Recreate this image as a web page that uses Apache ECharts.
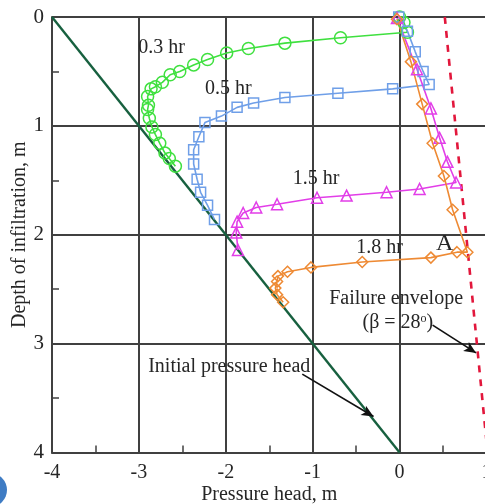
<!DOCTYPE html>
<html><head><meta charset="utf-8">
<style>html,body{margin:0;padding:0;background:#fff;overflow:hidden}#c{width:485px;height:504px;filter:blur(0.5px)}</style>
<script src="https://cdn.jsdelivr.net/npm/echarts@6/dist/echarts.min.js"></script>
</head><body><div id="c"></div>
<script>
const xTicks = [-4,-3,-2,-1,0,1];
const yTicks = [0,1,2,3,4];
const hr03 = [[0,0],[0.05,0.05],[0.09,0.14],[-0.68,0.19],[-1.32,0.24],[-1.74,0.29],[-1.99,0.33],[-2.21,0.39],[-2.37,0.44],[-2.53,0.50],[-2.64,0.53],[-2.73,0.60],[-2.81,0.64],[-2.86,0.66],[-2.90,0.73],[-2.89,0.81],[-2.90,0.85],[-2.88,0.93],[-2.85,1.01],[-2.81,1.08],[-2.76,1.16],[-2.70,1.25],[-2.65,1.30],[-2.58,1.37]];
const hr05 = [[-0.01,0],[0.09,0.13],[0.18,0.32],[0.27,0.50],[0.34,0.62],[-0.08,0.66],[-0.71,0.70],[-1.32,0.74],[-1.68,0.79],[-1.87,0.83],[-2.05,0.91],[-2.24,0.97],[-2.31,1.10],[-2.37,1.22],[-2.37,1.35],[-2.33,1.49],[-2.29,1.61],[-2.21,1.73],[-2.13,1.86]];
const hr15 = [[-0.03,0.01],[0.20,0.48],[0.36,0.84],[0.46,1.11],[0.55,1.33],[0.65,1.52],[0.23,1.58],[-0.15,1.61],[-0.61,1.64],[-0.95,1.66],[-1.41,1.72],[-1.65,1.75],[-1.80,1.80],[-1.87,1.88],[-1.88,1.98],[-1.86,2.14]];
const hr18 = [[-0.03,0.02],[0.13,0.41],[0.26,0.80],[0.38,1.16],[0.51,1.46],[0.61,1.77],[0.78,2.16],[0.66,2.16],[0.36,2.21],[-0.43,2.25],[-1.02,2.30],[-1.29,2.34],[-1.40,2.38],[-1.41,2.43],[-1.43,2.49],[-1.41,2.55],[-1.34,2.62]];
const initialHead = [[-4,0],[0,4]];
const failureEnvelope = [[0.52,0],[1.0,3.9]];
const arrows = [[[-1.12,3.28],[-0.30,3.67]],[[0.38,2.83],[0.88,3.085]]];
const notes = [
  {at:[-2.74,0.28],text:'0.3 hr'},
  {at:[-1.97,0.66],text:'0.5 hr'},
  {at:[-0.96,1.49],text:'1.5 hr'},
  {at:[-0.23,2.12],text:'1.8 hr'},
  {at:[-0.04,2.59],text:'Failure envelope'},
  {at:[-0.02,2.81],text:'(β = 28{s|o})'},
  {at:[-1.96,3.21],text:'Initial pressure head'}
];
const pointA = {at:[0.52,2.08],text:'A'};

const FONT = '"Liberation Serif", serif', INK = '#262626', GRID = '#404040';
function curve(name,data,color,symbol,size){
  return {name,type:'line',data,symbol,symbolSize:size,showSymbol:true,animation:false,z:3,
    lineStyle:{color,width:1.6},itemStyle:{color:'rgba(255,255,255,0)',borderColor:color,borderWidth:1.5}};
}
const chart = echarts.init(document.getElementById('c'),null,{renderer:'canvas'});
chart.setOption({
  animation:false,backgroundColor:'#fff',
  grid:{left:52,top:17,width:434.5,height:435.5,containLabel:false,outerBoundsMode:'none'},
  xAxis:{type:'value',min:xTicks[0],max:xTicks[xTicks.length-1],interval:1,position:'bottom',
    name:'Pressure head, m',nameLocation:'middle',nameGap:32,nameMoveOverlap:false,nameTextStyle:{fontFamily:FONT,fontSize:20,color:INK},
    axisLine:{onZero:false,lineStyle:{color:GRID,width:2}},axisTick:{show:false},
    minorTick:{show:true,splitNumber:2,length:-7,lineStyle:{color:GRID,width:1.5}},
    axisLabel:{fontFamily:FONT,fontSize:20,color:INK,margin:10,showMaxLabel:true,hideOverlap:false},
    splitLine:{show:true,lineStyle:{color:GRID,width:2}}},
  yAxis:{type:'value',inverse:true,min:yTicks[0],max:yTicks[yTicks.length-1],interval:1,position:'left',
    name:'Depth of infiltration, m',nameLocation:'middle',nameGap:22,nameMoveOverlap:false,nameRotate:90,nameTextStyle:{fontFamily:FONT,fontSize:20,color:INK},
    axisLine:{onZero:false,lineStyle:{color:GRID,width:2}},axisTick:{show:false},
    minorTick:{show:true,splitNumber:2,length:-7,lineStyle:{color:GRID,width:1.5}},
    axisLabel:{fontFamily:FONT,fontSize:21,color:INK,margin:8,padding:[4,0,0,0],showMinLabel:true,showMaxLabel:true},
    splitLine:{show:true,lineStyle:{color:GRID,width:2}}},
  series:[
    {name:'Initial pressure head',type:'line',data:initialHead,symbol:'none',z:2,lineStyle:{color:'#17603f',width:2.4}},
    {name:'Failure envelope',type:'line',data:failureEnvelope,symbol:'none',z:2,lineStyle:{color:'#e2173c',width:2.6,type:[7,7]}},
    curve('0.3 hr',hr03,'#3fe03f','circle',12),
    curve('0.5 hr',hr05,'#6f9fe8','rect',10),
    curve('1.5 hr',hr15,'#e23ee8','triangle',11),
    curve('1.8 hr',hr18,'#ee8a34','diamond',11),
    {type:'line',data:[],z:5,markLine:{silent:true,animation:false,symbol:['none','arrow'],symbolSize:[8,12],label:{show:false},
      lineStyle:{color:'#111',width:1.7,type:'solid'},
      data:arrows.map(a=>[{coord:a[0]},{coord:a[1]}])}},
    {type:'scatter',symbolSize:0,z:6,silent:true,itemStyle:{opacity:1},
      data:notes.map(n=>({value:n.at,label:{show:true,position:'inside',formatter:n.text,fontFamily:FONT,fontSize:20,color:INK,
        rich:{s:{fontFamily:FONT,fontSize:12,color:INK,verticalAlign:'top',lineHeight:18,padding:[0,0,7,0]}}}}))},
    {type:'scatter',symbolSize:0,z:6,silent:true,itemStyle:{opacity:1},
      data:[{value:pointA.at,label:{show:true,position:'inside',formatter:pointA.text,fontFamily:FONT,fontSize:24,color:INK}}]}
  ],
  graphic:[{type:'circle',shape:{cx:-10,cy:490,r:17},style:{fill:'#3f7cc4'},silent:true,z:10}]
});
</script></body></html>
